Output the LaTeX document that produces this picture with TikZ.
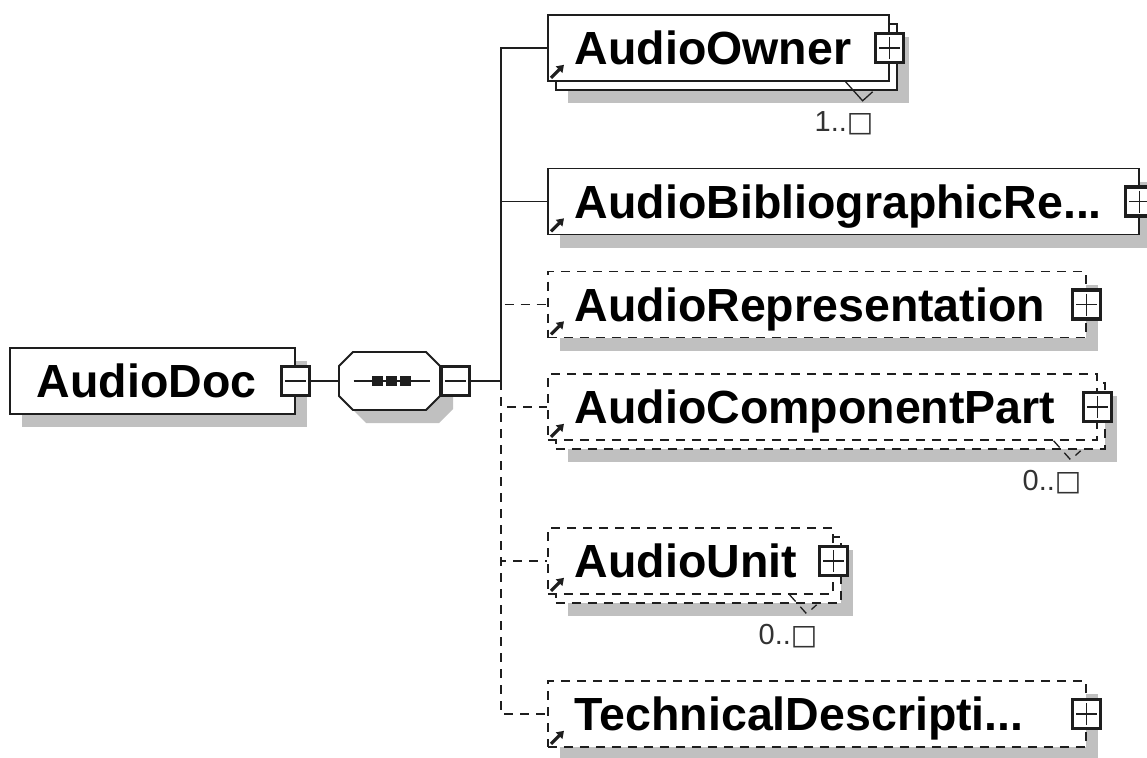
\documentclass[tikz,border=0pt]{standalone}
\usepackage{fontspec}
\setmainfont{Liberation Sans}
\newfontfamily\dejavu{DejaVu Sans}
\usetikzlibrary{arrows.meta,shadows}
\definecolor{ink}{RGB}{30,30,30}
\definecolor{shade}{RGB}{192,192,192}
\definecolor{labelgray}{RGB}{50,50,50}
\tikzset{
  elem/.style={
      draw=ink,
      fill=white,
      line width=1.6pt,
      minimum height=66pt,
      inner xsep=27pt,
      inner ysep=0pt,
      text width=#1,
      align=left,
      text height=33pt,
      text depth=0pt,
      font=\fontsize{46.5}{56}\selectfont\bfseries,
      anchor=west
  },
  flat/.style={
      general shadow={shadow xshift=12pt,shadow yshift=-13pt,fill=shade}
  },
  stacked/.style={
      general shadow={shadow xshift=20pt,shadow yshift=-22pt,fill=shade},
      general shadow={shadow xshift=8pt,shadow yshift=-9pt,fill=white,draw=ink}
  },
  optional/.style={dash pattern=on 9pt off 7pt},
  expander/.style={
      draw=ink,
      fill=white,
      line width=3.2pt,
      minimum width=28pt,
      minimum height=29pt,
      inner sep=0pt
  },
  plusbox/.style={
      expander,
      path picture={\draw[line width=1.2pt]
        ([xshift=3.5pt]path picture bounding box.west) -- ([xshift=-3.5pt]path picture bounding box.east)
        ([yshift=-3.5pt]path picture bounding box.north) -- ([yshift=3.5pt]path picture bounding box.south);}
  },
  minusbox/.style={
      expander,
      path picture={\draw[line width=1.2pt]
        ([xshift=3.5pt]path picture bounding box.west) -- ([xshift=-3.5pt]path picture bounding box.east);}
  },
  link/.style={draw=ink, line width=1.3pt},
  refarrow/.style={draw=ink, line width=3.2pt, -{Triangle[length=7pt,width=9pt]}},
  mult/.style={
      anchor=east,
      inner sep=0pt,
      text height=21pt,
      text depth=0pt,
      text=labelgray,
      font=\fontsize{29}{34}\selectfont
  }
}

\begin{document}
\begin{tikzpicture}[x=1pt,y=-1pt]
  \useasboundingbox (0,0) rectangle (1147,757);

  % root and sequence
  \node[elem=231pt, flat] (doc) at (9,381) {AudioDoc};
  \node[minusbox] (docm) at (doc.east) {};
  \node[minimum width=101pt, minimum height=58pt, inner sep=0pt, outer sep=0pt] (seq) at (389.5,381) {};
  \draw[draw=ink, line width=1.8pt, fill=white,
        general shadow={shadow xshift=13pt,shadow yshift=-13pt,fill=shade}]
    ([xshift=14pt]seq.north west) -- ([xshift=-14pt]seq.north east)
    -- ([yshift=-14pt]seq.north east) -- ([yshift=14pt]seq.south east)
    -- ([xshift=-14pt]seq.south east) -- ([xshift=14pt]seq.south west)
    -- ([yshift=14pt]seq.south west) -- ([yshift=-14pt]seq.north west) -- cycle;
  \coordinate (dots) at ([xshift=2pt]seq.center);
  \draw[link] ([xshift=-38pt]dots) -- ([xshift=38pt]dots);
  \foreach \dx in {-14,0,14}
    \fill[ink] ([xshift=\dx pt]dots) +(-5.5,-5) rectangle +(5.5,5);
  \node[minusbox, anchor=west] (seqm) at (seq.east) {};

  % children
  \node[elem=287pt, stacked] (owner) at (547,48) {AudioOwner};
  \node[elem=537pt, flat] (biblio) at (547,201.5) {AudioBibliographicRe...};
  \node[elem=484pt, flat, optional] (rep) at (547,304.5) {AudioRepresentation};
  \node[elem=495pt, stacked, optional] (comp) at (547,407) {AudioComponentPart};
  \node[elem=231pt, stacked, optional] (unit) at (547,561) {AudioUnit};
  \node[elem=484pt, flat, optional] (tech) at (547,714) {TechnicalDescripti...};

  \foreach \n in {owner,biblio,rep,comp,unit,tech} {
    \node[plusbox] at (\n.east) {};
    \draw[refarrow] ([shift={(4pt,4pt)}]\n.south west) -- +(13,-13);
  }

  \foreach \n/\m/\s in {owner/1/solid,comp/0/optional,unit/0/optional} {
    \draw[link,\s] ([xshift=-44pt]\n.south east) -- +(17,19) -- +(27,10);
    \node[mult] at ([shift={(-16pt,-39pt)}]\n.south east)
      {\m..{\dejavu\fontsize{28}{32}\selectfont □}};
  }

  % connectors
  \coordinate (jn) at (501,381);
  \draw[link] (docm) -- (seq.west);
  \draw[link] (seqm) -- (jn);
  \foreach \n in {owner,biblio}
    \draw[link] (jn) |- (\n.west);
  \foreach \n in {rep,comp,unit,tech}
    \draw[link,optional] (jn) |- (\n.west);
\end{tikzpicture}
\end{document}
